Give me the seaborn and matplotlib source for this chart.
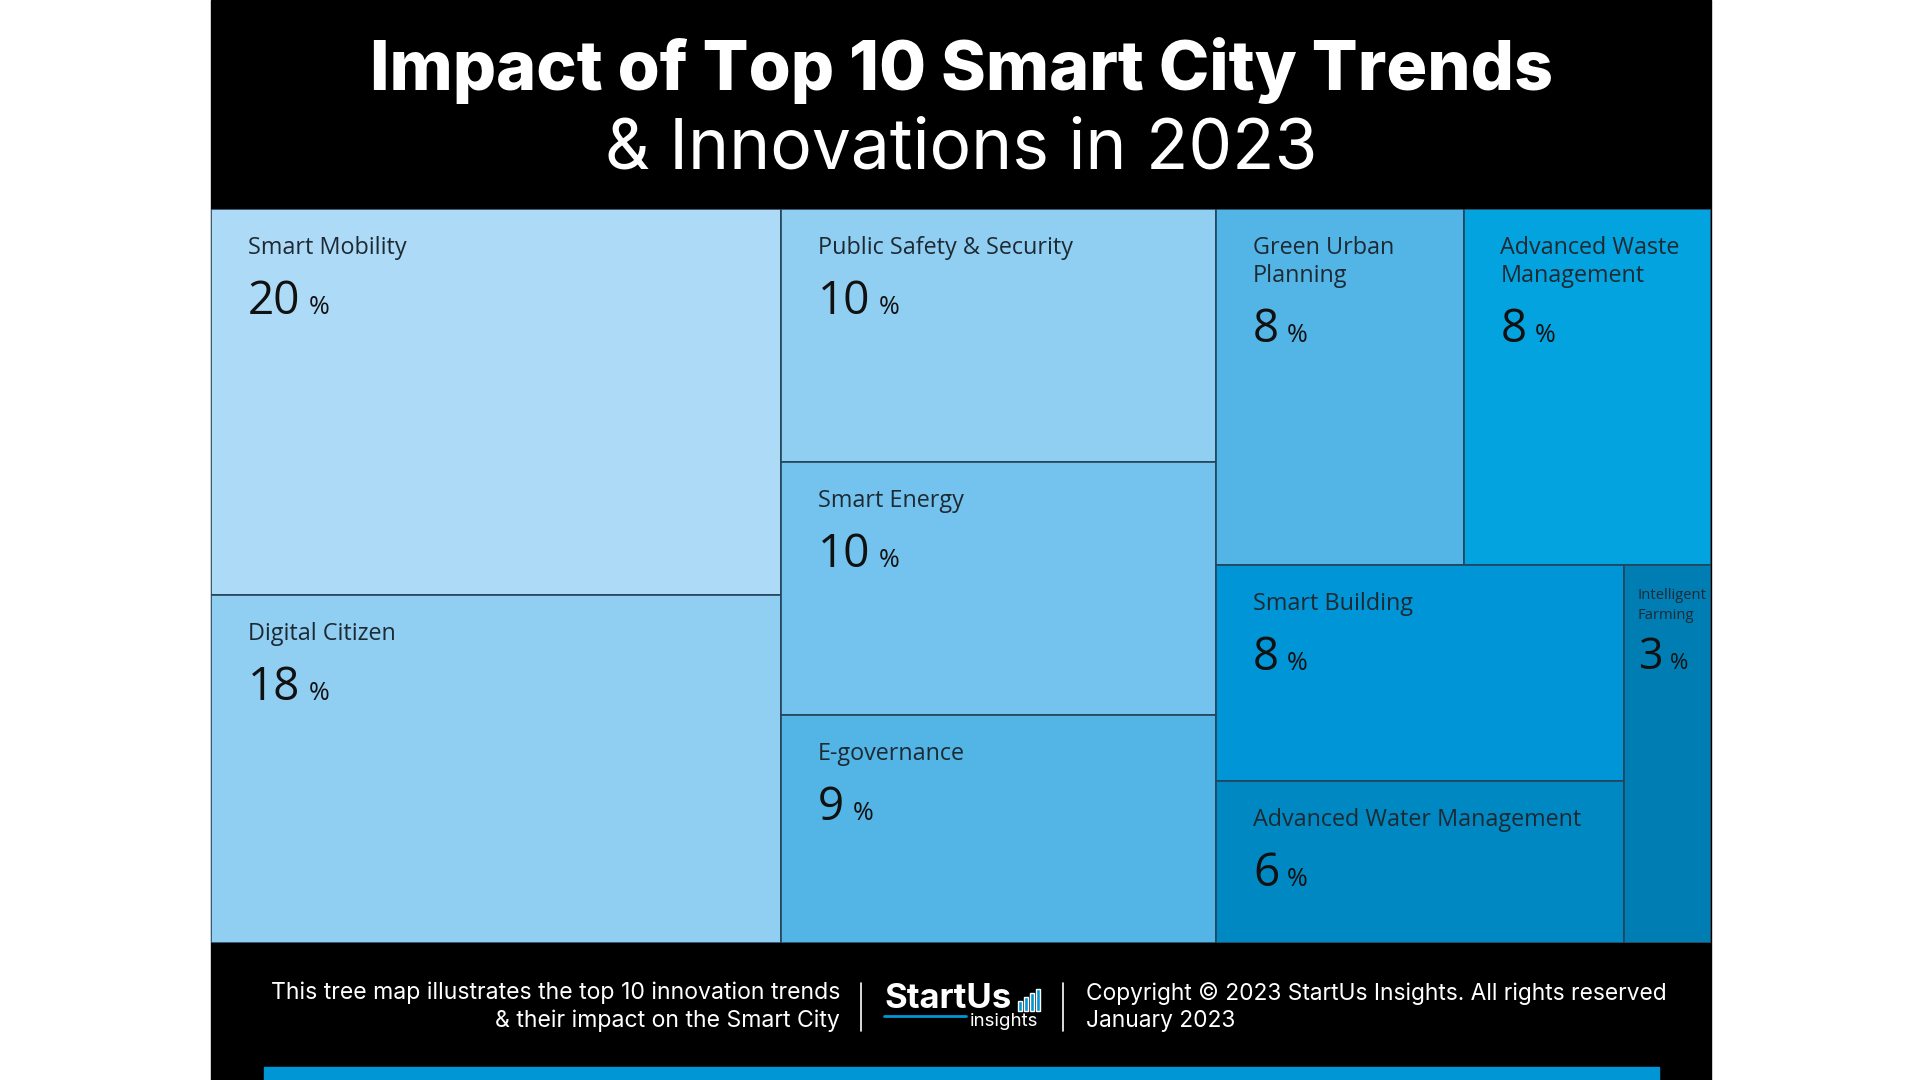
import matplotlib
matplotlib.use('Agg')
import matplotlib.pyplot as plt
import seaborn as sns

# treemap data
trends = ['Smart Mobility', 'Digital Citizen', 'Public Safety & Security',
          'Smart Energy', 'E-governance', 'Green Urban\nPlanning',
          'Advanced Waste\nManagement', 'Smart Building',
          'Advanced Water Management', 'Intelligent\nFarming']
impact = [20, 18, 10, 10, 9, 8, 8, 8, 6, 3]
colors = ['#ADDAF6', '#90CFF2', '#90CFF2', '#73C3EE', '#53B4E6',
          '#53B4E6', '#03A3DF', '#0095D6', '#0088C3', '#007DB3']

# grouping of the tiles ('h' = side by side, 'v' = stacked)
layout = ('h', [('v', [0, 1]),
                ('v', [2, 3, 4]),
                ('v', [('h', [5, 6]),
                       ('h', [('v', [7, 8]), 9])])])

title_1 = 'Impact of Top 10 Smart City Trends'
title_2 = '& Innovations in 2023'
foot_left = 'This tree map illustrates the top 10 innovation trends\n& their impact on the Smart City'
foot_right = 'Copyright \u00a9 2023 StartUs Insights. All rights reserved\nJanuary 2023'

sns.set_style('white')
plt.rcParams['font.family'] = ['Open Sans', 'DejaVu Sans']

W, H = 1920, 1080
PX = 0.72  # points per pixel at dpi 100


def total(node):
    if isinstance(node, int):
        return impact[node]
    return sum(total(c) for c in node[1])


def place(node, x, y, w, h, out):
    if isinstance(node, int):
        out[node] = (x, y, w, h)
        return
    kind, kids = node
    s = total(node)
    for k in kids:
        f = total(k) / s
        if kind == 'h':
            place(k, x, y, w * f, h, out)
            x += w * f
        else:
            place(k, x, y, w, h * f, out)
            y += h * f


fig = plt.figure(figsize=(19.2, 10.8), dpi=100)
fig.patch.set_facecolor('white')

# background / frame axes in pixel units
bg = fig.add_axes([0, 0, 1, 1])
bg.set_xlim(0, W)
bg.set_ylim(H, 0)
bg.axis('off')
bg.add_patch(plt.Rectangle((211, 0), 1500, H, color='black', zorder=0))
bg.add_patch(plt.Rectangle((264, 1067), 1395, 13, color='#0096D6', zorder=1))

bg.text(961, 70, title_1, color='white', fontsize=49, fontweight='heavy',
        family=['Inter', 'DejaVu Sans'], ha='center', va='center')
bg.text(961, 150, title_2, color='white', fontsize=50, fontweight='normal',
        family=['Inter', 'DejaVu Sans'], ha='center', va='center')

# footer
bg.text(840, 1007, foot_left, color='white', fontsize=16.6, ha='right',
        va='center', linespacing=1.3, family=['Inter', 'DejaVu Sans'])
bg.text(1086, 1007, foot_right, color='white', fontsize=16.4, ha='left',
        va='center', linespacing=1.3, family=['Inter', 'DejaVu Sans'])
bg.plot([861, 861], [983, 1031], color='white', lw=1.2)
bg.plot([1063, 1063], [983, 1031], color='white', lw=1.2)
bg.text(884, 999, 'StartUs', color='white', fontsize=25, fontweight='bold',
        family=['Inter', 'DejaVu Sans'], ha='left', va='center')
bg.text(1038, 1022, 'insights', color='white', fontsize=13.5,
        family=['Inter', 'DejaVu Sans'], ha='right', va='center')
bg.plot([884, 966], [1016, 1016], color='#0096D6', lw=2)
for i, bh in enumerate([10, 14, 18, 22]):
    bg.bar(1018 + i * 6, bh, width=3.5, bottom=1011 - bh, color='#0096D6',
           align='edge')

# treemap axes
ax = fig.add_axes([211 / W, (H - 943) / H, 1500 / W, (943 - 209) / H])
ax.set_xlim(0, 100)
ax.set_ylim(100, 0)
ax.axis('off')

rects = {}
place(layout, 0, 0, 100, 100, rects)

for i in range(len(trends)):
    x, y, w, h = rects[i]
    ax.bar(x, h, width=w, bottom=y, align='edge', color=colors[i],
           edgecolor='#24445A', linewidth=1.2)

fig.canvas.draw()
renderer = fig.canvas.get_renderer()

for i in range(len(trends)):
    x, y, w, h = rects[i]
    narrow = w < 10
    lab_fs = 10.6 if narrow else 16.8
    num_fs = 31 if narrow else 33
    pct_fs = 16 if narrow else 18
    dx = 14 if narrow else 37
    lab_y = 34 if narrow else 45
    step = 20 if narrow else 28
    gap = 50 if narrow else 60
    lines = trends[i].split('\n')
    for j, line in enumerate(lines):
        ax.annotate(line, xy=(x, y), xytext=(dx * PX, -(lab_y + j * step) * PX),
                    textcoords='offset points', fontsize=lab_fs,
                    color='#1E2A33', ha='left', va='baseline')
    num_y = lab_y + (len(lines) - 1) * step + gap
    t = ax.annotate(str(impact[i]), xy=(x, y), xytext=(dx * PX, -num_y * PX),
                    textcoords='offset points', fontsize=num_fs, color='#111111',
                    ha='left', va='baseline')
    wpx = t.get_window_extent(renderer).width
    ax.annotate('%', xy=(x, y), xytext=((dx + wpx + 8) * PX, -num_y * PX),
                textcoords='offset points', fontsize=pct_fs, color='#111111',
                ha='left', va='baseline')

fig.savefig('out.png', dpi=100, facecolor='white')
